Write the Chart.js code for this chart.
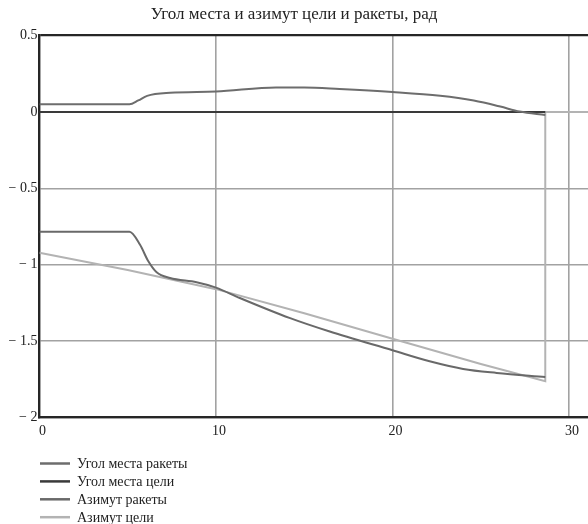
<!DOCTYPE html>
<html>
<head>
<meta charset="utf-8">
<script src="https://cdn.jsdelivr.net/npm/chart.js@4"></script>
<style>
html,body{margin:0;padding:0;background:#fff;}
#wrap{width:588px;height:524px;position:relative;}
</style>
</head>
<body>
<div id="wrap"><canvas id="c" width="588" height="524"></canvas></div>
<script>
// ---- data ----
const titleText = 'Угол места и азимут цели и ракеты, рад';
const seriesNames = ['Угол места ракеты', 'Угол места цели', 'Азимут ракеты', 'Азимут цели'];

const tMissileElev = [0, 5.1, 5.6, 6.1, 7.4, 10, 13.4, 15, 17, 20, 22.7, 24.6, 26.1, 27.2, 28.65];
const missileElev  = [0.05, 0.05, 0.075, 0.105, 0.125, 0.133, 0.16, 0.16, 0.15, 0.13, 0.105, 0.074, 0.035, 0.002, -0.02];

const tTargetElev = [0, 28.65];
const targetElev  = [0, 0];

const tMissileAz = [0, 5.1, 5.7, 6.17, 6.64, 7.4, 8.9, 10, 11.35, 14.2, 16.4, 20, 22.1, 24, 25.9, 28.65];
const missileAz  = [-0.785, -0.785, -0.87, -0.978, -1.05, -1.087, -1.115, -1.15, -1.218, -1.35, -1.436, -1.56, -1.632, -1.682, -1.708, -1.735];

const tTargetAz = [0, 5, 10, 15, 20, 25, 28.65, 28.65, 31.07];
const targetAz  = [-0.922, -1.035, -1.16, -1.318, -1.485, -1.65, -1.763, 0, 0];

const xTickValues = [0, 10, 20, 30];
const xTickLabels = ['0', '10', '20', '30'];
const yTickValues = [-2, -1.5, -1, -0.5, 0, 0.5];
const yTickLabels = ['\u2212 2', '\u2212 1.5', '\u2212 1', '\u2212 0.5', '0', '0.5'];

// ---- styling ----
const colors = ['#6d6d6d', '#3a3a3a', '#696969', '#b3b3b3'];
const FONT = '"Liberation Serif", "Times New Roman", serif';

function pts(xs, ys) { return xs.map((x, i) => ({x: x, y: ys[i]})); }

const datasets = [
  {label: seriesNames[0], data: pts(tMissileElev, missileElev), borderColor: colors[0], cubicInterpolationMode: 'monotone'},
  {label: seriesNames[1], data: pts(tTargetElev, targetElev), borderColor: colors[1], tension: 0},
  {label: seriesNames[2], data: pts(tMissileAz, missileAz), borderColor: colors[2], cubicInterpolationMode: 'monotone'},
  {label: seriesNames[3], data: pts(tTargetAz, targetAz), borderColor: colors[3], tension: 0}
].map(d => Object.assign({borderWidth: 2, pointRadius: 0, fill: false}, d));

const legendPlugin = {
  id: 'vlegend',
  afterDraw(chart) {
    const ctx = chart.ctx;
    ctx.save();
    ctx.font = '14px ' + FONT;
    ctx.textBaseline = 'middle';
    ctx.fillStyle = '#222';
    chart.data.datasets.forEach((ds, i) => {
      const y = 463.5 + i * 17.9;
      ctx.strokeStyle = ds.borderColor;
      ctx.lineWidth = 2.5;
      ctx.beginPath();
      ctx.moveTo(40, y);
      ctx.lineTo(70, y);
      ctx.stroke();
      ctx.fillText(ds.label, 77, y + 1);
    });
    ctx.restore();
  }
};

new Chart(document.getElementById('c'), {
  type: 'line',
  data: {datasets: datasets},
  plugins: [legendPlugin],
  options: {
    responsive: false,
    animation: false,
    events: [],
    layout: {padding: {top: 0, left: 0, right: 0, bottom: 84.5}},
    plugins: {
      legend: {display: false},
      tooltip: {enabled: false},
      title: {
        display: true,
        text: titleText,
        color: '#222',
        font: {family: FONT, size: 17, weight: 'normal'},
        padding: {top: 4.5, bottom: 10.6}
      }
    },
    scales: {
      x: {
        type: 'linear',
        min: 0,
        max: 31.07,
        afterFit(s) { s.height = 22; },
        afterBuildTicks(s) { s.ticks = xTickValues.map(v => ({value: v})); },
        ticks: {
          includeBounds: false,
          padding: 5.5,
          labelOffset: 3,
          color: '#222',
          font: {family: FONT, size: 14},
          maxRotation: 0,
          callback(v) { const i = xTickValues.indexOf(v); return i >= 0 ? xTickLabels[i] : ''; }
        },
        grid: {
          drawTicks: false,
          color: '#a2a2a2',
          lineWidth: 1.6
        },
        border: {display: true, color: '#262626', width: 2.2}
      },
      y: {
        type: 'linear',
        min: -2,
        max: 0.5,
        afterFit(s) { s.width = 39.4; },
        afterBuildTicks(s) { s.ticks = yTickValues.map(v => ({value: v})); },
        ticks: {
          padding: 2,
          color: '#222',
          font: {family: FONT, size: 14},
          callback(v) { const i = yTickValues.indexOf(v); return i >= 0 ? yTickLabels[i] : ''; }
        },
        grid: {
          drawTicks: false,
          color: ctx => (ctx.tick && ctx.tick.value === 0.5) ? '#262626' : '#a2a2a2',
          lineWidth: ctx => (ctx.tick && ctx.tick.value === 0.5) ? 2.2 : 1.6
        },
        border: {display: true, color: '#262626', width: 2.2}
      }
    }
  }
});
</script>
</body>
</html>
